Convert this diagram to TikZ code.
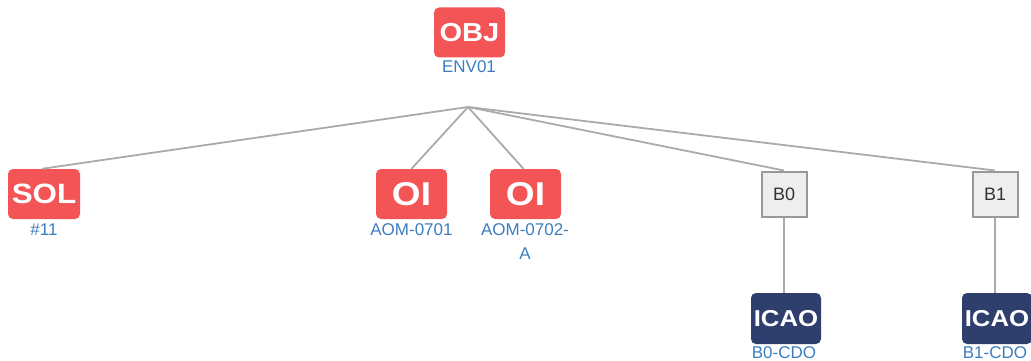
\documentclass[tikz,border=0pt]{standalone}
\usepackage{fontspec}
\setmainfont{Liberation Sans}
\usepackage{graphicx}
\definecolor{tagred}{HTML}{F35456}
\definecolor{tagnavy}{HTML}{2E3F6E}
\definecolor{labelblue}{HTML}{3B7DBF}
\definecolor{edgegray}{HTML}{AAAAAA}
\definecolor{boxgray}{HTML}{EEEEEE}
\definecolor{boxline}{HTML}{999999}
\tikzset{
  tag/.style={rounded corners=5pt, inner sep=0pt, text=white,
              minimum width=71pt, minimum height=50pt},
  redtag/.style={tag, fill=tagred},
  navytag/.style={tag, fill=tagnavy, minimum width=70pt, minimum height=51pt},
  branch/.style={draw=boxline, line width=2pt, fill=boxgray, inner sep=0pt,
                 minimum width=45pt, minimum height=45pt, text=black!80,
                 font=\fontsize{18}{18}\selectfont},
  caption/.style={anchor=base, text=labelblue, inner sep=0pt,
                  font=\fontsize{17}{17}\selectfont},
  link/.style={draw=edgegray, line width=1.8pt}
}
\newcommand{\tagtext}[2]{\fontsize{#1}{#1}\selectfont\bfseries\scalebox{1.12}[1]{#2}}
\begin{document}
\begin{tikzpicture}[x=1pt,y=-1pt]
\useasboundingbox (0,0) rectangle (1031,361);

% top object
\node[redtag] (obj) at (469.5,32.5) {\tagtext{26}{OBJ}};
\node[caption] (objl) at (469,73) {ENV01};
\coordinate (hub) at (468,107);

% children
\node[redtag, minimum width=72pt] (sol) at (44,194) {\tagtext{28}{SOL}};
\node[caption] (soll) at (44,235) {\#11};
\node[redtag] (oi1) at (411.5,194) {\tagtext{33}{OI}};
\node[caption] (oi1l) at (411.5,235) {AOM-0701};
\node[redtag] (oi2) at (525.5,194) {\tagtext{33}{OI}};
\node[caption] (oi2l) at (525,235) {AOM-0702-};
\node[caption] (oi2m) at (525,259) {A};
\node[branch] (b0) at (784,194) {B0};
\node[branch] (b1) at (995,194) {B1};

% leaves
\node[navytag] (icao0) at (786,318.5) {\tagtext{23}{ICAO}};
\node[caption] (icao0l) at (784,358.5) {B0-CDO};
\node[navytag] (icao1) at (997,318.5) {\tagtext{23}{ICAO}};
\node[caption] (icao1l) at (995,358.5) {B1-CDO};

% connectors
\draw[link] (hub) -- ([xshift=-2pt]sol.north);
\draw[link] (hub) -- (oi1.north);
\draw[link] (hub) -- ([xshift=-2pt]oi2.north);
\draw[link] (hub) -- (b0.north);
\draw[link] (hub) -- (b1.north);
\draw[link] (b0.south) -- (b0.south |- icao0.north);
\draw[link] (b1.south) -- (b1.south |- icao1.north);
\end{tikzpicture}
\end{document}
